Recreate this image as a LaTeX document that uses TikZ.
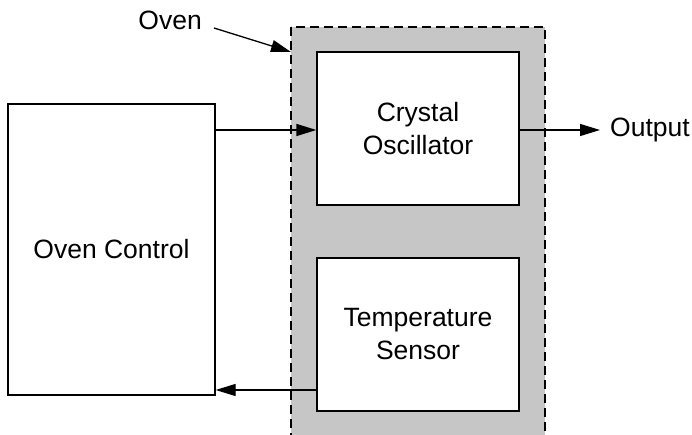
\documentclass[tikz,border=0pt]{standalone}
\usepackage{fontspec}
\setmainfont{Liberation Sans}
\usetikzlibrary{arrows.meta}
\begin{document}
\begin{tikzpicture}[x=1pt,y=-1pt,
  blk/.style={draw=black, line width=1.3pt, fill=white, inner sep=0pt},
  lbl/.style={font=\fontsize{26.5}{33}\selectfont, align=center, inner sep=0pt},
  arr/.style={line width=1.3pt, -{Triangle[length=20pt,width=12pt]}}]
\useasboundingbox (0,0) rectangle (692,435);
\clip (0,0) rectangle (692,435);
\fill[white] (0,0) rectangle (692,435);
% oven
\draw[fill=gray!45, dash pattern=on 9pt off 5pt, line width=1.3pt] (291,27) rectangle (545,445);
\coordinate (ovenc) at (291,52);
% blocks
\node[blk, minimum width=202pt, minimum height=153pt] (xo) at (418,128.5) {};
\node[lbl] at (xo) {Crystal\\Oscillator};
\node[blk, minimum width=202pt, minimum height=153pt] (ts) at (418,334.5) {};
\node[lbl] at (ts) {Temperature\\Sensor};
\node[blk, minimum width=207pt, minimum height=291pt] (oc) at (111.5,249.5) {};
\node[lbl] at (oc) {Oven Control};
% labels
\node[lbl, anchor=east] (ovenl) at (202,20) {Oven};
\node[lbl, anchor=west] (out) at (610,130) {Output};
% arrows
\draw[arr] (ovenl.east) ++(12,8) coordinate (os) -- (ovenc);
\draw[arr] (oc.east |- 0,130) -- (xo.west |- 0,130);
\draw[arr] (xo.east |- 0,130) -- ([xshift=-10pt]out.west);
\draw[arr] (ts.west |- 0,390) -- (oc.east |- 0,390);
\end{tikzpicture}
\end{document}
